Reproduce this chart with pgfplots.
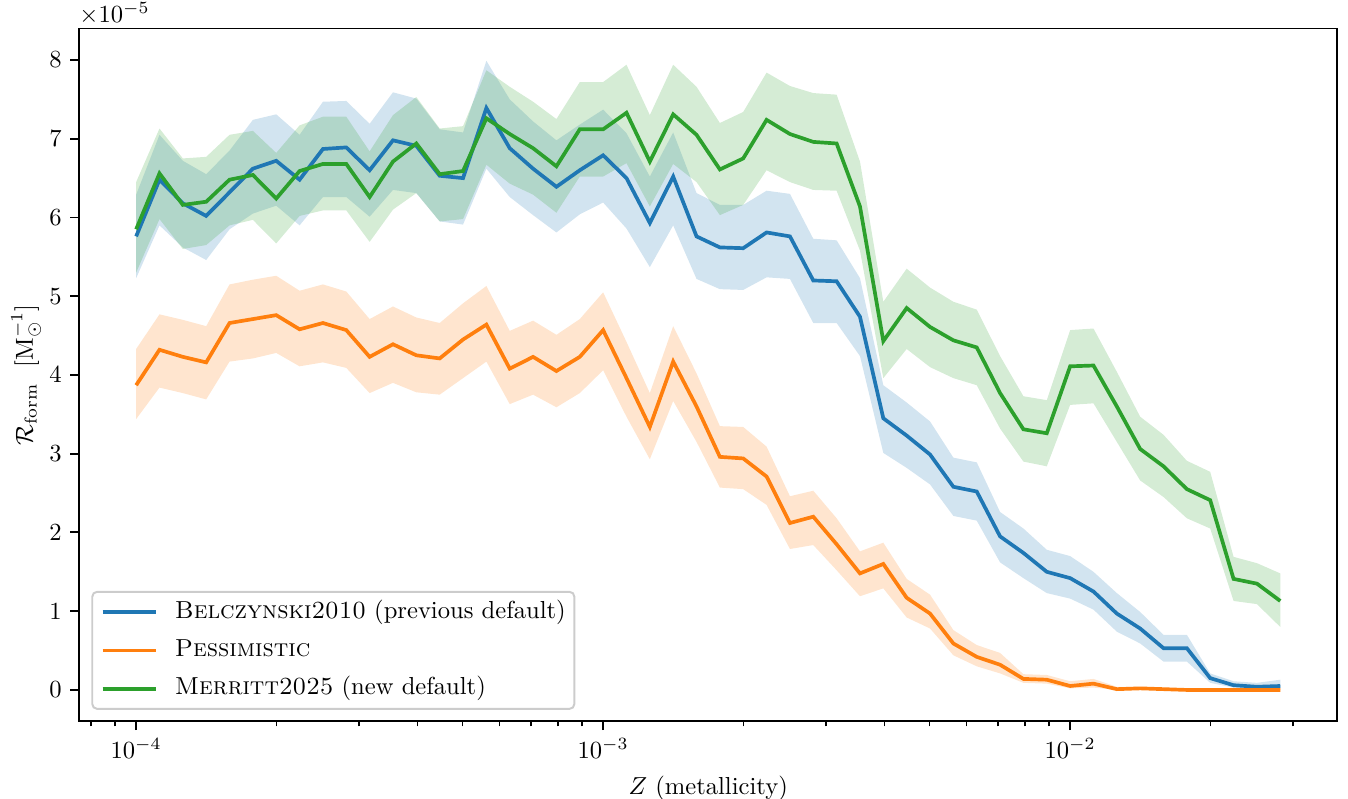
\documentclass[border=0pt]{standalone}
\usepackage{pgfplots}
\pgfplotsset{compat=1.18}
\usepackage{pgfplotstable}
\usepgfplotslibrary{fillbetween}
\usetikzlibrary{calc}

\definecolor{tabblue}{HTML}{1F77B4}
\definecolor{taborange}{HTML}{FF7F0E}
\definecolor{tabgreen}{HTML}{2CA02C}

% Formation rate per unit stellar mass (in units of 1e-5 / Msun) vs metallicity,
% median and band for each prescription.
\pgfplotstableread{
Z         b    bl   bu   o    ol   ou   g    gl   gu
1.0000e-4 5.76 5.23 6.29 3.87 3.44 4.33 5.85 5.30 6.45
1.1220e-4 6.48 5.90 7.05 4.32 3.84 4.77 6.56 5.98 7.13
1.2589e-4 6.18 5.62 6.72 4.23 3.77 4.70 6.16 5.60 6.75
1.4125e-4 6.02 5.46 6.55 4.16 3.69 4.62 6.20 5.65 6.77
1.5849e-4 6.32 5.85 6.85 4.66 4.17 5.15 6.48 5.90 7.05
1.7783e-4 6.62 6.05 7.24 4.71 4.21 5.21 6.54 5.97 7.10
1.9953e-4 6.72 6.15 7.31 4.76 4.28 5.26 6.24 5.67 6.82
2.2387e-4 6.48 5.90 7.05 4.58 4.11 5.07 6.59 6.02 7.17
2.5119e-4 6.87 6.26 7.47 4.66 4.16 5.15 6.68 6.09 7.28
2.8184e-4 6.89 6.26 7.48 4.57 4.09 5.06 6.68 6.09 7.28
3.1623e-4 6.60 6.01 7.19 4.23 3.77 4.71 6.26 5.69 6.84
3.5481e-4 6.98 6.35 7.59 4.39 3.90 4.87 6.71 6.10 7.30
3.9811e-4 6.91 6.31 7.51 4.25 3.78 4.73 6.94 6.31 7.53
4.4668e-4 6.53 5.95 7.12 4.21 3.75 4.66 6.55 5.95 7.13
5.0119e-4 6.50 5.91 7.08 4.45 3.96 4.91 6.59 5.98 7.16
5.6234e-4 7.39 6.62 7.99 4.64 4.17 5.13 7.26 6.67 7.87
6.3096e-4 6.88 6.26 7.50 4.08 3.63 4.56 7.06 6.43 7.66
7.0795e-4 6.62 6.03 7.22 4.23 3.75 4.69 6.88 6.29 7.47
7.9433e-4 6.39 5.81 6.98 4.05 3.59 4.51 6.65 6.06 7.25
8.9125e-4 6.60 6.04 7.18 4.23 3.77 4.71 7.12 6.52 7.72
1.0000e-3 6.79 6.19 7.37 4.57 4.06 5.05 7.12 6.52 7.72
1.1220e-3 6.50 5.86 7.07 3.96 3.47 4.42 7.33 6.69 7.94
1.2589e-3 5.93 5.37 6.52 3.34 2.93 3.77 6.71 6.14 7.30
1.4125e-3 6.52 5.90 7.08 4.17 3.67 4.62 7.31 6.68 7.94
1.5849e-3 5.76 5.22 6.31 3.60 3.15 4.02 7.05 6.45 7.66
1.7783e-3 5.62 5.09 6.16 2.96 2.57 3.35 6.61 6.03 7.20
1.9953e-3 5.61 5.08 6.16 2.94 2.55 3.34 6.75 6.16 7.34
2.2387e-3 5.81 5.24 6.34 2.71 2.35 3.09 7.24 6.60 7.84
2.5119e-3 5.76 5.22 6.30 2.12 1.79 2.46 7.06 6.45 7.67
2.8184e-3 5.20 4.66 5.73 2.20 1.84 2.53 6.96 6.35 7.58
3.1623e-3 5.19 4.66 5.71 1.85 1.52 2.18 6.94 6.34 7.56
3.5481e-3 4.74 4.24 5.23 1.48 1.19 1.76 6.14 5.58 6.71
3.9811e-3 3.45 3.01 3.87 1.60 1.29 1.87 4.43 3.96 4.93
4.4668e-3 3.23 2.82 3.65 1.17 0.92 1.41 4.85 4.33 5.35
5.0119e-3 2.99 2.61 3.41 0.97 0.78 1.21 4.61 4.10 5.11
5.6234e-3 2.58 2.21 2.95 0.59 0.44 0.76 4.44 3.96 4.93
6.3096e-3 2.52 2.15 2.89 0.42 0.30 0.57 4.35 3.87 4.83
7.0795e-3 1.95 1.62 2.26 0.32 0.21 0.47 3.77 3.32 4.24
7.9433e-3 1.74 1.42 2.05 0.14 0.09 0.20 3.31 2.90 3.73
8.9125e-3 1.50 1.23 1.78 0.13 0.08 0.19 3.26 2.84 3.68
1.0000e-2 1.42 1.16 1.70 0.05 0.02 0.11 4.11 3.62 4.57
1.1220e-2 1.25 1.02 1.50 0.08 0.03 0.14 4.12 3.64 4.59
1.2589e-2 0.97 0.74 1.23 0.01 0.00 0.04 3.60 3.15 4.04
1.4125e-2 0.78 0.59 0.99 0.02 0.00 0.04 3.06 2.66 3.47
1.5849e-2 0.53 0.36 0.70 0.01 0.00 0.02 2.84 2.45 3.24
1.7783e-2 0.53 0.36 0.70 0.00 0.00 0.02 2.55 2.18 2.91
1.9953e-2 0.15 0.09 0.21 0.00 0.00 0.01 2.41 2.05 2.77
2.2387e-2 0.06 0.03 0.11 0.00 0.00 0.01 1.41 1.13 1.69
2.5119e-2 0.04 0.02 0.09 0.00 0.00 0.01 1.35 1.09 1.61
2.8184e-2 0.05 0.02 0.13 0.00 0.00 0.01 1.13 0.80 1.48
}\rates

\begin{document}
\begin{tikzpicture}
\begin{axis}[
  name=main,
  scale only axis,
  width=511.6pt, height=281.7pt,
  xmode=log,
  xmin=7.544e-5, xmax=0.03736,
  ymin=-0.4, ymax=8.4,
  ytick={0,1,2,3,4,5,6,7,8},
  tick pos=left,
  tick align=outside,
  major tick length=3.5pt,
  minor tick length=2pt,
  major tick style={black, line width=0.8pt},
  minor tick style={black, line width=0.6pt},
  axis line style={line width=0.8pt},
  xlabel={$Z$ (metallicity)},
  ylabel={$\mathcal{R}_{\mathrm{form}}\ \ [\mathrm{M}_{\odot}^{-1}]$},
  ylabel style={yshift=-3.5pt},
  legend cell align=left,
  legend image code/.code={\draw[#1] (0pt,0pt) -- (21.6pt,0pt);},
  legend style={
    at={(0,0)}, anchor=south west, xshift=5pt, yshift=4.7pt,
    draw=black!20, line width=0.8pt, rounded corners=2pt,
    fill=white, fill opacity=0.8, text opacity=1,
    inner xsep=3.5pt, inner ysep=3.2pt,
    row sep=5.6pt, column sep=7pt,
    nodes={inner sep=0pt, text height=7.5pt, text depth=2.5pt},
  },
]
  % Belczynski2010
  \addplot[tabblue, line width=1.5pt] table[x=Z, y=b] {\rates};
  \addlegendentry{\textsc{Belczynski2010} (previous default)}
  \addplot[name path=bu, draw=none, forget plot] table[x=Z, y=bu] {\rates};
  \addplot[name path=bl, draw=none, forget plot] table[x=Z, y=bl] {\rates};
  \addplot[tabblue, fill opacity=0.2, draw=none, forget plot] fill between[of=bu and bl];

  % Pessimistic
  \addplot[taborange, line width=1.5pt] table[x=Z, y=o] {\rates};
  \addlegendentry{\textsc{Pessimistic}}
  \addplot[name path=ou, draw=none, forget plot] table[x=Z, y=ou] {\rates};
  \addplot[name path=ol, draw=none, forget plot] table[x=Z, y=ol] {\rates};
  \addplot[taborange, fill opacity=0.2, draw=none, forget plot] fill between[of=ou and ol];

  % Merritt2025
  \addplot[tabgreen, line width=1.5pt] table[x=Z, y=g] {\rates};
  \addlegendentry{\textsc{Merritt2025} (new default)}
  \addplot[name path=gu, draw=none, forget plot] table[x=Z, y=gu] {\rates};
  \addplot[name path=gl, draw=none, forget plot] table[x=Z, y=gl] {\rates};
  \addplot[tabgreen, fill opacity=0.2, draw=none, forget plot] fill between[of=gu and gl];
\end{axis}
\node[anchor=base west, inner sep=0pt] at ($(main.north west)+(0pt,2.5pt)$) {$\times 10^{-5}$};
\pgfresetboundingbox
\path[use as bounding box] ($(main.south west)+(-32.1pt,-31.5pt)$) rectangle ($(main.north east)+(4.3pt,11.6pt)$);
\end{tikzpicture}
\end{document}
